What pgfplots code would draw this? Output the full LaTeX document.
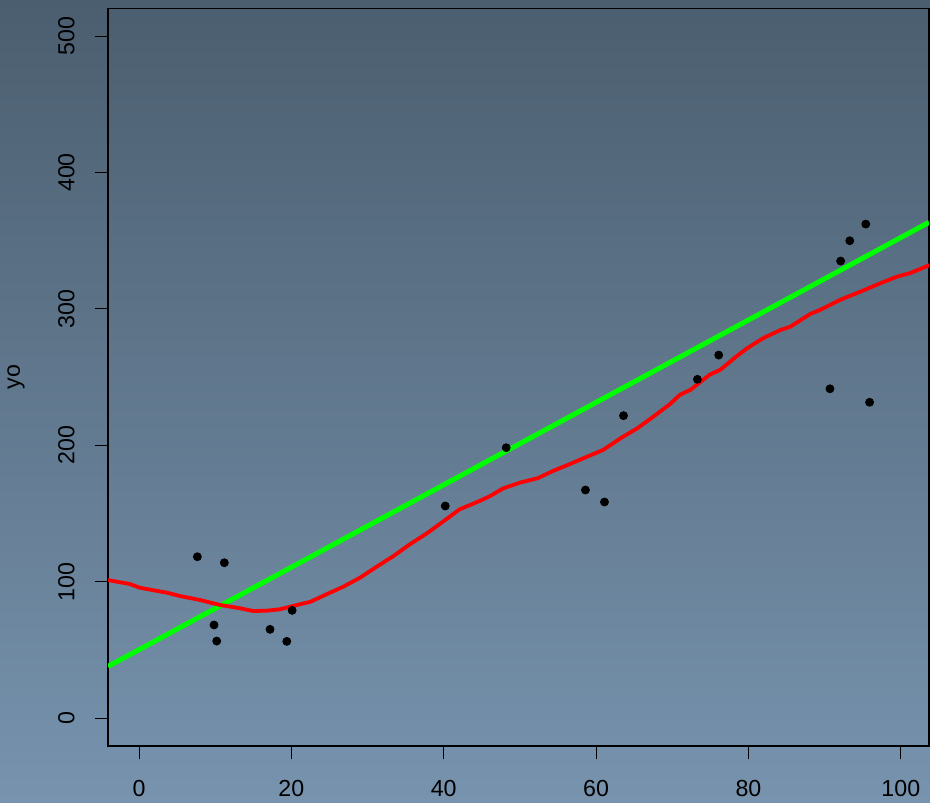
\documentclass[border=0pt]{standalone}
\usepackage{pgfplots}
\pgfplotsset{compat=1.18}
\usepackage{fontspec}
\setmainfont{Liberation Sans}
\definecolor{bgtop}{HTML}{4B5E6F}
\definecolor{bgbot}{HTML}{7793AE}
\definecolor{rgreen}{HTML}{00FF00}
\definecolor{rred}{HTML}{FF0000}
\begin{document}
\begin{tikzpicture}
\useasboundingbox (0,0) rectangle (465pt,401pt);
\clip (0,0) rectangle (465pt,401pt);
\shade[top color=bgtop, bottom color=bgbot] (0,0) rectangle (465pt,401pt);
\begin{axis}[
 at={(54pt,28pt)}, anchor=south west,
 width=410.5pt, height=368.75pt, scale only axis,
 xmin=-4.07, xmax=103.7, ymin=-20.3, ymax=520.2,
 xtick={0,20,...,100}, ytick={0,100,...,500},
 xtick pos=lower, ytick pos=left,
 tick align=outside, major tick length=6.5pt,
 tick style={black, line width=0.5pt},
 axis line style={black, line width=0.6pt},
 /pgf/number format/assume math mode=true,
 ticklabel style={font=\fontsize{11.6}{13.9}\selectfont, inner sep=0pt},
 xticklabel style={yshift=-10.5pt, anchor=north},
 yticklabel style={xshift=-10pt, rotate=90, anchor=south},
 ylabel={yo},
 ylabel style={at={(rel axis cs:-0.1072,0.5)}, anchor=base, font=\fontsize{11.6}{13.9}\selectfont, inner sep=0pt},
]
\addplot[only marks, mark=*, mark size=2pt, black] coordinates {
(7.66,118.4) (9.85,68.4) (10.2,56.6) (11.2,114.0) (17.2,65.2) (19.4,56.4)
(20.1,79.1) (40.2,155.6) (48.2,198.3) (58.6,167.3) (61.1,158.5) (63.6,221.8)
(73.3,248.4) (76.1,266.2) (90.7,241.5) (92.1,335.1) (93.3,350.0) (95.4,362.2)
(95.9,231.6)
};
\addplot[rgreen, line width=2.5pt] coordinates {(-4.07,38.0) (103.7,363.5)};
\addplot[rred, line width=1.9pt] coordinates {
(-4.07,101.3) (-1.2,98.4) (0.1,95.7) (3.7,92.0) (5.4,89.6) (8.0,86.7) (10.6,83.1)
(13.3,80.6) (15.0,78.6) (16.8,78.9) (18.5,79.9) (20.2,82.3) (22.5,85.4) (24.7,91.1)
(26.8,96.4) (29.0,103.0) (31.2,111.1) (33.4,118.9) (35.6,127.7) (37.8,135.6)
(39.9,144.1) (42.1,153.2) (44.8,159.5) (46.1,162.9) (47.8,168.5) (50.0,172.7)
(52.3,175.9) (54.4,181.4) (56.6,186.4) (58.8,191.7) (60.9,196.6) (63.2,205.2)
(65.4,212.5) (67.5,221.0) (69.7,230.3) (71.0,237.1) (72.4,240.8) (74.9,251.8)
(76.3,255.4) (78.3,264.7) (79.8,271.1) (81.9,278.5) (84.2,284.6) (85.5,287.0)
(88.1,296.3) (89.4,299.3) (92.0,306.6) (94.7,312.7) (97.3,318.8) (99.5,323.7)
(101.2,326.2) (103.8,332.2)
};
\end{axis}
\end{tikzpicture}
\end{document}
